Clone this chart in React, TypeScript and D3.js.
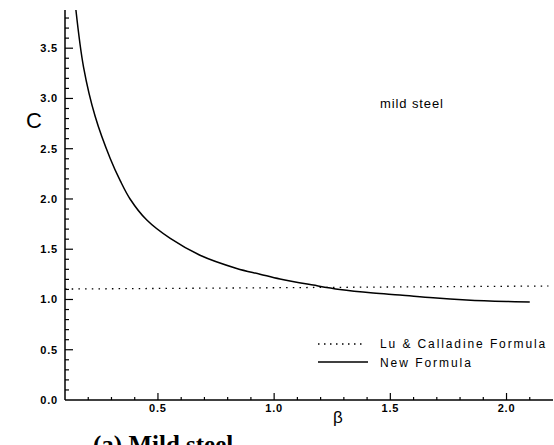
import React, { useEffect, useRef } from "react";
import * as d3 from "d3";

const newBeta = [0.147, 0.18, 0.23, 0.295, 0.338, 0.38, 0.452, 0.553, 0.681, 0.839, 0.939, 1.025, 1.168, 1.283, 1.426, 1.541, 1.684, 1.828, 2.0, 2.1];
const newC = [3.88, 3.31, 2.82, 2.4, 2.18, 2.0, 1.79, 1.607, 1.44, 1.309, 1.252, 1.203, 1.143, 1.1, 1.065, 1.045, 1.017, 0.996, 0.98, 0.974];
const luBeta = [0.1, 2.18];
const luC = [1.104, 1.134];
const xMajorTicks = [0.5, 1.0, 1.5, 2.0];
const yMajorTicks = [0.0, 0.5, 1.0, 1.5, 2.0, 2.5, 3.0, 3.5];
const xDomain = [0.1, 2.2];
const yDomain = [0, 3.88];
const legendLabels = ["Lu & Calladine Formula", "New Formula"];
const annotation = "mild steel";
const caption = "(a) Mild steel";

const W = 554;
const H = 445;

export default function App() {
  const ref = useRef<SVGSVGElement>(null);
  useEffect(() => {
    const svg = d3.select(ref.current);
    svg.selectAll("*").remove();
    const x = d3.scaleLinear().domain(xDomain).range([65, 553]);
    const y = d3.scaleLinear().domain(yDomain).range([400, 10]);
    const sans = "'Liberation Sans', Arial, sans-serif";

    // axes lines
    svg.append("line").attr("x1", x(xDomain[0])).attr("x2", x(xDomain[1])).attr("y1", y(0)).attr("y2", y(0)).attr("stroke", "#000").attr("stroke-width", 1.5);
    svg.append("line").attr("x1", x(xDomain[0])).attr("x2", x(xDomain[0])).attr("y1", y(0)).attr("y2", y(yDomain[1])).attr("stroke", "#000").attr("stroke-width", 1.5);

    // x ticks
    const xMinor = d3.range(2, 22).map((i) => i / 10);
    xMinor.forEach((v) => {
      const major = xMajorTicks.some((m) => Math.abs(m - v) < 1e-6);
      svg.append("line").attr("x1", x(v)).attr("x2", x(v)).attr("y1", y(0)).attr("y2", y(0) - (major ? 7 : 3)).attr("stroke", "#000").attr("stroke-width", 1.2);
    });
    xMajorTicks.forEach((v) => {
      svg.append("text").attr("x", x(v)).attr("y", 412).attr("text-anchor", "middle").attr("font-family", sans).attr("font-size", 11).attr("letter-spacing", 0.8).attr("font-weight", "bold").attr("fill", "#000").text(v.toFixed(1));
    });

    // y ticks
    const yMinor = d3.range(1, 39).map((i) => i / 10);
    yMinor.forEach((v) => {
      const major = yMajorTicks.some((m) => Math.abs(m - v) < 1e-6);
      svg.append("line").attr("x1", x(xDomain[0])).attr("x2", x(xDomain[0]) + (major ? 8 : 4)).attr("y1", y(v)).attr("y2", y(v)).attr("stroke", "#000").attr("stroke-width", 1.2);
    });
    yMajorTicks.forEach((v) => {
      svg.append("text").attr("x", 58).attr("y", y(v) + 4).attr("text-anchor", "end").attr("font-family", sans).attr("font-size", 11).attr("letter-spacing", 0.8).attr("font-weight", "bold").attr("fill", "#000").text(v.toFixed(1));
    });

    // axis titles
    svg.append("text").attr("x", 34).attr("y", 128).attr("text-anchor", "middle").attr("font-family", sans).attr("font-size", 22).attr("font-weight", 300).attr("fill", "#000").text("C");
    svg.append("text").attr("x", 338).attr("y", 423).attr("text-anchor", "middle").attr("font-family", "'Liberation Sans', sans-serif").attr("font-size", 17).attr("fill", "#000").text("β");

    // Lu & Calladine dotted
    const luData = luBeta.map((b, i) => [b, luC[i]] as [number, number]);
    const line = d3.line<[number, number]>().x((d) => x(d[0])).y((d) => y(d[1]));
    svg.append("path").attr("d", line(luData)).attr("fill", "none").attr("stroke", "#000").attr("stroke-width", 1.3).attr("stroke-dasharray", "1.5 5.2");

    // New formula curve
    const newData = newBeta.map((b, i) => [b, newC[i]] as [number, number]);
    const curve = d3.line<[number, number]>().x((d) => x(d[0])).y((d) => y(d[1])).curve(d3.curveCatmullRom);
    svg.append("path").attr("d", curve(newData)).attr("fill", "none").attr("stroke", "#000").attr("stroke-width", 1.5);

    // annotation
    svg.append("text").attr("x", 380).attr("y", 108).attr("font-family", sans).attr("font-size", 13).attr("letter-spacing", 0.9).attr("fill", "#000").text(annotation);

    // legend
    svg.append("line").attr("x1", 318).attr("x2", 362).attr("y1", 344).attr("y2", 344).attr("stroke", "#000").attr("stroke-width", 1.3).attr("stroke-dasharray", "1.5 4.5");
    svg.append("text").attr("x", 380).attr("y", 348).attr("font-family", sans).attr("font-size", 12).attr("letter-spacing", 1.9).attr("fill", "#000").text(legendLabels[0]);
    svg.append("line").attr("x1", 318).attr("x2", 368).attr("y1", 362).attr("y2", 362).attr("stroke", "#000").attr("stroke-width", 1.5);
    svg.append("text").attr("x", 380).attr("y", 367).attr("font-family", sans).attr("font-size", 12).attr("letter-spacing", 1.95).attr("fill", "#000").text(legendLabels[1]);

    // caption (cut off at bottom, as in the reference)
    svg.append("text").attr("x", 93).attr("y", 453).attr("font-family", "'Liberation Serif', 'Times New Roman', serif").attr("font-size", 25).attr("font-weight", "bold").attr("fill", "#000").text(caption);
  }, []);
  return (
    <svg ref={ref} width={W} height={H} style={{ position: "absolute", left: 0, top: 0, background: "#fff" }} />
  );
}
